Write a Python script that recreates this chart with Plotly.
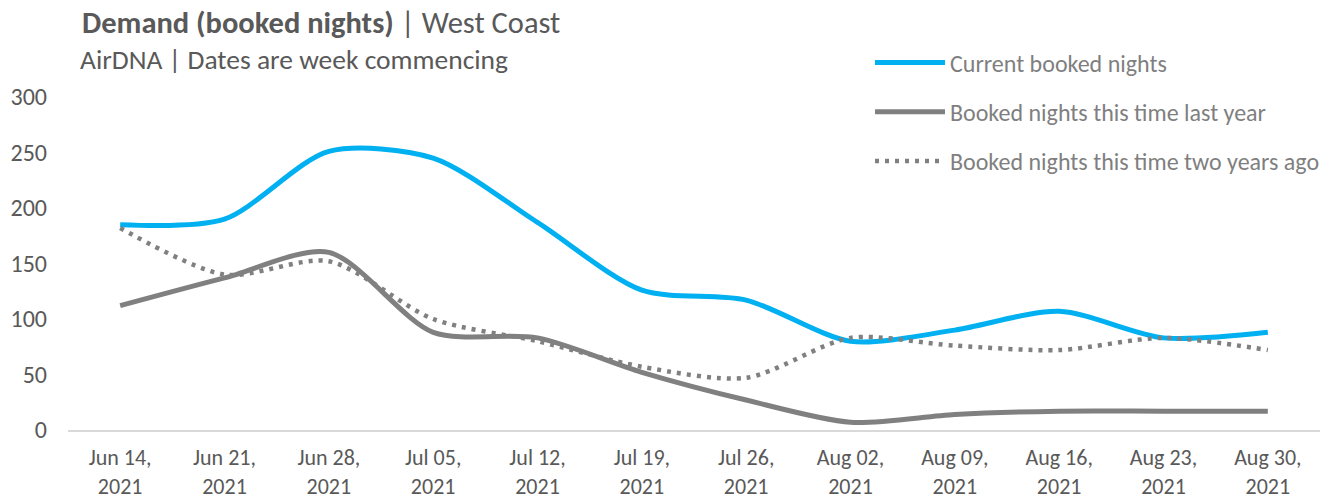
import plotly.graph_objects as go

categories = ["Jun 14,<br>2021", "Jun 21,<br>2021", "Jun 28,<br>2021", "Jul 05,<br>2021",
              "Jul 12,<br>2021", "Jul 19,<br>2021", "Jul 26,<br>2021", "Aug 02,<br>2021",
              "Aug 09,<br>2021", "Aug 16,<br>2021", "Aug 23,<br>2021", "Aug 30,<br>2021"]
current = [185, 190, 251, 245, 187, 126, 117, 80, 90, 107, 83, 88]
last_year = [112, 137, 160, 88, 83, 52, 27, 7, 14, 17, 17, 17]
two_years_ago = [182, 140, 152, 100, 80, 57, 47, 83, 76, 72, 83, 72]
y_ticks = [0, 50, 100, 150, 200, 250, 300]

FONT = "Carlito, Calibri, Lato, sans-serif"
TXT = "#595959"

fig = go.Figure()
fig.add_trace(go.Scatter(x=categories, y=current, name="Current booked nights",
                         mode="lines", line=dict(color="#00B0F0", width=5, shape="spline", smoothing=0.8),
                         legendgroup="a"))
fig.add_trace(go.Scatter(x=categories, y=last_year, name="Booked nights this time last year",
                         mode="lines", line=dict(color="#808080", width=5, shape="spline", smoothing=0.8),
                         legendgroup="b"))
fig.add_trace(go.Scatter(x=categories, y=two_years_ago, name="Booked nights this time two years ago",
                         mode="lines", line=dict(color="#808080", width=4.5, dash="4px,6px", shape="spline", smoothing=0.8),
                         legendgroup="c"))

fig.update_layout(
    width=1338, height=504,
    paper_bgcolor="white", plot_bgcolor="white",
    margin=dict(l=68, r=18, t=97, b=74),
    font=dict(family=FONT, color=TXT, size=22),
    title=dict(text="<b>Demand (booked nights)</b> | West Coast",
               xref="container", yref="container", x=82/1338, y=1-22/504,
               xanchor="left", yanchor="middle",
               font=dict(family=FONT, size=30.5, color=TXT)),
    annotations=[dict(text="AirDNA | Dates are week commencing", xref="paper", yref="paper",
                      x=(78-68)/1252, y=1+(97-60)/333, xanchor="left", yanchor="middle",
                      showarrow=False, font=dict(family=FONT, size=27.5, color=TXT))],
    legend=dict(x=(870-68)/1252, y=1+(97-40.5)/333, xanchor="left", yanchor="top",
                bgcolor="rgba(0,0,0,0)", font=dict(family=FONT, size=24, color="#7F7F7F"),
                tracegroupgap=15, itemwidth=70),
    showlegend=True,
)
fig.update_xaxes(type="category", range=[-0.5, 11.5], showgrid=False, showline=True,
                 linecolor="#D9D9D9", linewidth=2, ticks="", ticklabelstandoff=7,
                 tickfont=dict(size=22, color=TXT), fixedrange=True, automargin=False)
fig.update_yaxes(range=[0, 300], tickvals=y_ticks, showgrid=False, zeroline=False, showline=False,
                 ticks="", ticklabelstandoff=20, tickfont=dict(size=24, color=TXT), fixedrange=True,
                 automargin=False)

fig.write_html("out.html", post_script="document.body.style.margin='0px';",
               config={"displayModeBar": False})
